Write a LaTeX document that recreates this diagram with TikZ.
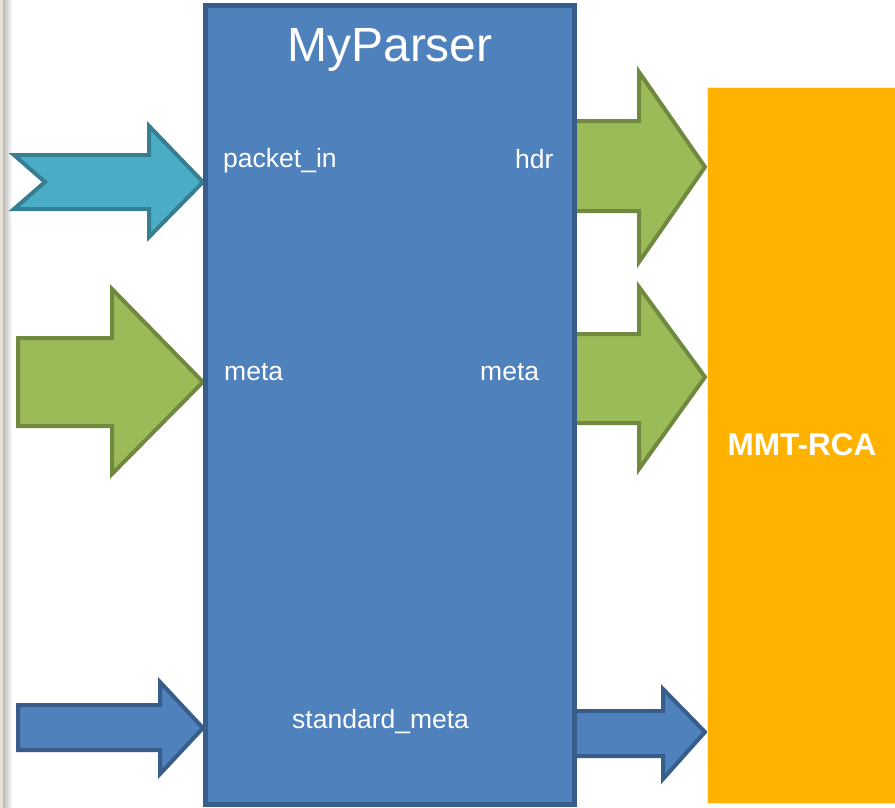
\documentclass[tikz,border=0pt]{standalone}
\usepackage{fontspec}
\setmainfont{Liberation Sans}
\definecolor{boxblue}{HTML}{4F81BD}
\definecolor{boxblueline}{HTML}{385D8A}
\definecolor{teal1}{HTML}{4BACC6}
\definecolor{teal1line}{HTML}{357F91}
\definecolor{green1}{HTML}{9BBB59}
\definecolor{green1line}{HTML}{71893F}
\definecolor{orange1}{HTML}{FFB300}
\definecolor{stripbeige}{HTML}{E6E1D6}
\tikzset{
  tealarrow/.style={fill=teal1, draw=teal1line, line width=4pt, line join=miter},
  greenarrow/.style={fill=green1, draw=green1line, line width=4pt, line join=miter},
  bluearrow/.style={fill=boxblue, draw=boxblueline, line width=4pt, line join=miter},
  lbl/.style={text=white, font=\fontsize{26.5}{31}\selectfont, inner sep=0pt, anchor=base west},
}
\begin{document}
\begin{tikzpicture}[x=1pt,y=-1pt]
\useasboundingbox (0,0) rectangle (895,808);
\fill[white] (0,0) rectangle (895,808);
% left window edge
\fill[stripbeige] (0,0) rectangle (3,808);
\shade[left color=gray!55, right color=white] (3,0) rectangle (12,808);
% input arrows
\draw[tealarrow] (14,155) -- (149,155) -- (149,126) -- (203,182) -- (149,237) -- (149,209) -- (14,209) -- (45,182) -- cycle;
\draw[greenarrow] (18,338) -- (112,338) -- (112,289) -- (203,382) -- (112,474) -- (112,426) -- (18,426) -- cycle;
\draw[bluearrow] (18,705) -- (160,705) -- (160,682) -- (203,728) -- (160,774) -- (160,750) -- (18,750) -- cycle;
% output arrows
\draw[greenarrow] (570,121) -- (639,121) -- (639,72) -- (705,167) -- (639,262) -- (639,211) -- (570,211) -- cycle;
\draw[greenarrow] (570,334) -- (639,334) -- (639,287) -- (705,377) -- (639,469) -- (639,423) -- (570,423) -- cycle;
\draw[bluearrow] (570,711) -- (663,711) -- (663,689) -- (705,732) -- (663,779) -- (663,756) -- (570,756) -- cycle;
% parser box
\node[draw=boxblueline, fill=boxblue, line width=4.5pt, minimum width=369pt, minimum height=799pt, inner sep=0pt] (parser) at (390,405) {};
\node[text=white, font=\fontsize{48}{56}\selectfont, inner sep=0pt, anchor=base] (title) at (390,62) {MyParser};
\node[lbl] (pin) at (223,167) {packet\_in};
\node[lbl] (hdr) at (515,168) {hdr};
\node[lbl] (metain) at (224,380) {meta};
\node[lbl] (metaout) at (480,380) {meta};
\node[lbl] (std) at (292,728) {standard\_meta};
% MMT-RCA box
\node[draw=gray!15, line width=1pt, fill=orange1, minimum width=188pt, minimum height=715pt, inner sep=0pt] (rca) at (801,445.5) {};
\node[text=white, font=\bfseries\fontsize{31.5}{38}\selectfont, inner sep=0pt] (rcalbl) at (802,445) {MMT-RCA};
\end{tikzpicture}
\end{document}
